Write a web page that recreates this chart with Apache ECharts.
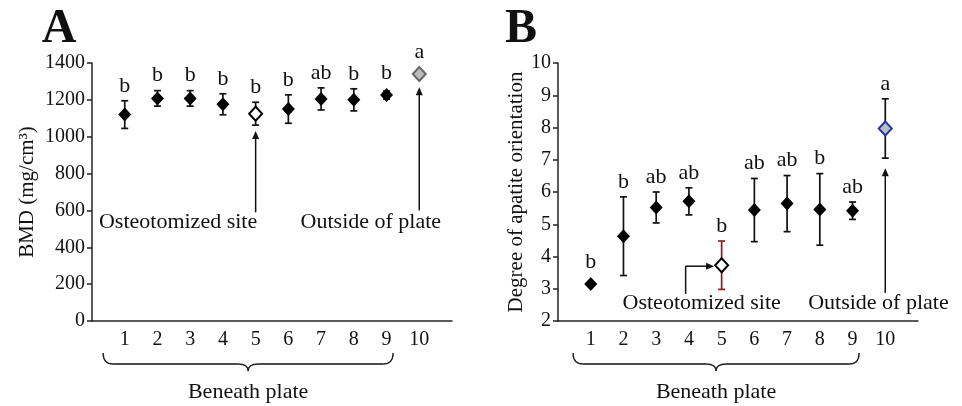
<!DOCTYPE html>
<html><head><meta charset="utf-8">
<script src="https://cdn.jsdelivr.net/npm/echarts@6/dist/echarts.min.js"></script>
<style>html,body{margin:0;padding:0;background:#fff}#c{width:962px;height:406px}</style>
</head><body><div id="c"></div>
<script>
// ---- data ----
const categories = [1, 2, 3, 4, 5, 6, 7, 8, 9, 10];
const bmdMean = [1120, 1208, 1208, 1176, 1125, 1150, 1205, 1200, 1226, 1340];
const bmdSD = [75, 42, 42, 57, 62, 77, 60, 60, 22, 0];
const bmdLetters = ['b', 'b', 'b', 'b', 'b', 'b', 'ab', 'b', 'b', 'a'];
const apMean = [3.15, 4.63, 5.52, 5.71, 3.73, 5.44, 5.64, 5.46, 5.42, 7.97];
const apSD = [0.05, 1.22, 0.48, 0.42, 0.75, 0.98, 0.87, 1.11, 0.27, 0.92];
const apLetters = ['b', 'b', 'ab', 'ab', 'b', 'ab', 'ab', 'b', 'ab', 'a'];
const bmdTicks = [0, 200, 400, 600, 800, 1000, 1200, 1400];
const apTicks = [2, 3, 4, 5, 6, 7, 8, 9, 10];

const FONT = '"Liberation Serif","Times New Roman",Times,serif';
const chart = echarts.init(document.getElementById('c'));

const markerStyle = {
  A: i => i === 4 ? {color: '#fff', borderColor: '#000', borderWidth: 2, opacity: 1}
       : i === 9 ? {color: '#bdbdbd', borderColor: '#666', borderWidth: 2, opacity: 1}
       : {color: '#000', opacity: 1},
  B: i => i === 4 ? {color: '#fff', borderColor: '#000', borderWidth: 2, opacity: 1}
       : i === 9 ? {color: '#bdbdbd', borderColor: '#2336a8', borderWidth: 2, opacity: 1}
       : {color: '#000', opacity: 1}
};
const barColor = {
  A: i => '#111',
  B: i => i === 4 ? '#8e1c1c' : '#111'
};

function errRender(letters, colorFn) {
  return function (params, api) {
    const x = api.value(0), m = api.value(1), s = api.value(2);
    const c = api.coord([x, m]);
    const hi = api.coord([x, m + s]);
    const lo = api.coord([x, m - s]);
    const idx = params.dataIndex;
    const col = colorFn(idx);
    const children = [];
    const cw = 3.5;
    if (s > 0) {
      children.push({type: 'line', shape: {x1: hi[0], y1: hi[1], x2: lo[0], y2: lo[1]}, style: {stroke: col, lineWidth: 1.7}});
      children.push({type: 'line', shape: {x1: hi[0] - cw, y1: hi[1], x2: hi[0] + cw, y2: hi[1]}, style: {stroke: col, lineWidth: 1.7}});
      children.push({type: 'line', shape: {x1: lo[0] - cw, y1: lo[1], x2: lo[0] + cw, y2: lo[1]}, style: {stroke: col, lineWidth: 1.7}});
    }
    const topPx = Math.min(hi[1], c[1] - 7);
    children.push({type: 'text', style: {text: letters[idx], x: c[0], y: topPx - 4, align: 'center', verticalAlign: 'bottom', font: '22px ' + FONT, fill: '#111'}});
    return {type: 'group', children};
  };
}

function xAxisCfg(g) {
  return {
    type: 'value', gridIndex: g, min: 0, max: 11, interval: 1,
    axisLine: {show: true, lineStyle: {color: '#222', width: 1.5}},
    axisTick: {show: false}, splitLine: {show: false},
    axisLabel: {formatter: v => categories.indexOf(v) >= 0 ? String(v) : '', fontSize: 20, fontFamily: FONT, color: '#111', margin: 9}
  };
}
function yAxisCfg(g, ticks, name, gap) {
  return {
    type: 'value', gridIndex: g, min: ticks[0], max: ticks[ticks.length - 1], interval: ticks[1] - ticks[0],
    axisLine: {show: true, lineStyle: {color: '#222', width: 1.5}},
    axisTick: {show: true, length: 5, inside: false, lineStyle: {color: '#222', width: 1.5}},
    splitLine: {show: false},
    axisLabel: {formatter: v => String(v), fontSize: 20, fontFamily: FONT, color: '#111', margin: 7},
    name: name, nameLocation: 'middle', nameGap: gap, nameRotate: 90,
    nameTextStyle: {fontSize: 21, fontFamily: FONT, color: '#111'}
  };
}

const option = {
  animation: false,
  backgroundColor: '#fff',
  grid: [
    {left: 92, top: 63, width: 360, height: 258},
    {left: 558, top: 63, width: 360, height: 258}
  ],
  xAxis: [xAxisCfg(0), xAxisCfg(1)],
  yAxis: [yAxisCfg(0, bmdTicks, 'BMD (mg/cm³)', 54), yAxisCfg(1, apTicks, 'Degree of apatite orientation', 28)],
  series: [
    {type: 'custom', xAxisIndex: 0, yAxisIndex: 0, z: 2, renderItem: errRender(bmdLetters, barColor.A),
     data: categories.map((c, i) => [c, bmdMean[i], bmdSD[i]])},
    {type: 'scatter', xAxisIndex: 0, yAxisIndex: 0, z: 3, symbol: 'diamond', symbolSize: [13, 14],
     data: categories.map((c, i) => ({value: [c, bmdMean[i]], itemStyle: markerStyle.A(i)}))},
    {type: 'custom', xAxisIndex: 1, yAxisIndex: 1, z: 2, renderItem: errRender(apLetters, barColor.B),
     data: categories.map((c, i) => [c, apMean[i], apSD[i]])},
    {type: 'scatter', xAxisIndex: 1, yAxisIndex: 1, z: 3, symbol: 'diamond', symbolSize: [13, 14],
     data: categories.map((c, i) => ({value: [c, apMean[i]], itemStyle: markerStyle.B(i)}))}
  ]
};
chart.setOption(option);

// ---- annotations (positions derived from the axes) ----
function px(g, x, y) { return chart.convertToPixel({gridIndex: g}, [x, y]); }
const G = [];
function arrowHead(tip, dir) { // dir: 'up' | 'right'
  const L = 8, W = 3.5;
  const pts = dir === 'up'
    ? [[tip[0], tip[1]], [tip[0] - W, tip[1] + L], [tip[0] + W, tip[1] + L]]
    : [[tip[0], tip[1]], [tip[0] - L, tip[1] - W], [tip[0] - L, tip[1] + W]];
  G.push({type: 'polygon', shape: {points: pts}, style: {fill: '#111'}, z: 10});
}
function line(p1, p2, w) {
  G.push({type: 'line', shape: {x1: p1[0], y1: p1[1], x2: p2[0], y2: p2[1]}, style: {stroke: '#111', lineWidth: w || 1.5}, z: 10});
}
function quad(p1, cp, p2) {
  G.push({type: 'bezierCurve', shape: {x1: p1[0], y1: p1[1], cpx1: cp[0], cpy1: cp[1], x2: p2[0], y2: p2[1]}, style: {stroke: '#222', lineWidth: 1.4, fill: null}, z: 10});
}
function text(t, p, size, extra) {
  G.push({type: 'text', x: p[0], y: p[1], style: Object.assign({text: t, font: size + 'px ' + FONT, fill: '#111', align: 'center', verticalAlign: 'middle'}, extra || {}), z: 10});
}
function brace(g, xa, xb) {
  const a = px(g, xa, 0), b = px(g, xb, 0);
  const base = chart.convertToPixel({gridIndex: g}, [0, g === 0 ? 0 : 2])[1];
  const y0 = base + 32, y1 = base + 43, y2 = base + 50, r = 10;
  const x0 = a[0], x1 = b[0], xm = (x0 + x1) / 2;
  quad([x0, y0], [x0, y1], [x0 + r, y1]);
  line([x0 + r, y1], [xm - r, y1], 1.4);
  quad([xm - r, y1], [xm, y1], [xm, y2]);
  quad([xm, y2], [xm, y1], [xm + r, y1]);
  line([xm + r, y1], [x1 - r, y1], 1.4);
  quad([x1 - r, y1], [x1, y1], [x1, y0]);
  text('Beneath plate', [xm, base + 71], 22);
}

// Panel A
{
  const a1 = px(0, 5, 590), a2 = px(0, 5, 1031);
  line(a1, [a2[0], a2[1] + 7]); arrowHead(a2, 'up');
  const b1 = px(0, 10, 600), b2 = px(0, 10, 1268);
  line(b1, [b2[0], b2[1] + 7]); arrowHead(b2, 'up');
  text('Osteotomized site', px(0, 2.63, 535), 22);
  text('Outside of plate', px(0, 8.52, 535), 22);
  brace(0, 0.34, 9.2);
}
// Panel B
{
  const p1 = px(1, 3.9, 2.84), p2 = px(1, 3.9, 3.7), p3 = px(1, 4.77, 3.7);
  line(p1, p2); line(p2, [p3[0] - 7, p3[1]]); arrowHead(p3, 'right');
  const q1 = px(1, 10, 2.87), q2 = px(1, 10, 6.74);
  line(q1, [q2[0], q2[1] + 7]); arrowHead(q2, 'up');
  text('Osteotomized site', px(1, 4.39, 2.55), 22);
  text('Outside of plate', px(1, 9.79, 2.55), 22);
  brace(1, 0.46, 9.2);
}
// Panel letters
text('A', [59, 30], 48, {font: 'bold 48px ' + FONT});
text('B', [521, 30], 48, {font: 'bold 48px ' + FONT});

chart.setOption({graphic: {elements: G}});
</script></body></html>
